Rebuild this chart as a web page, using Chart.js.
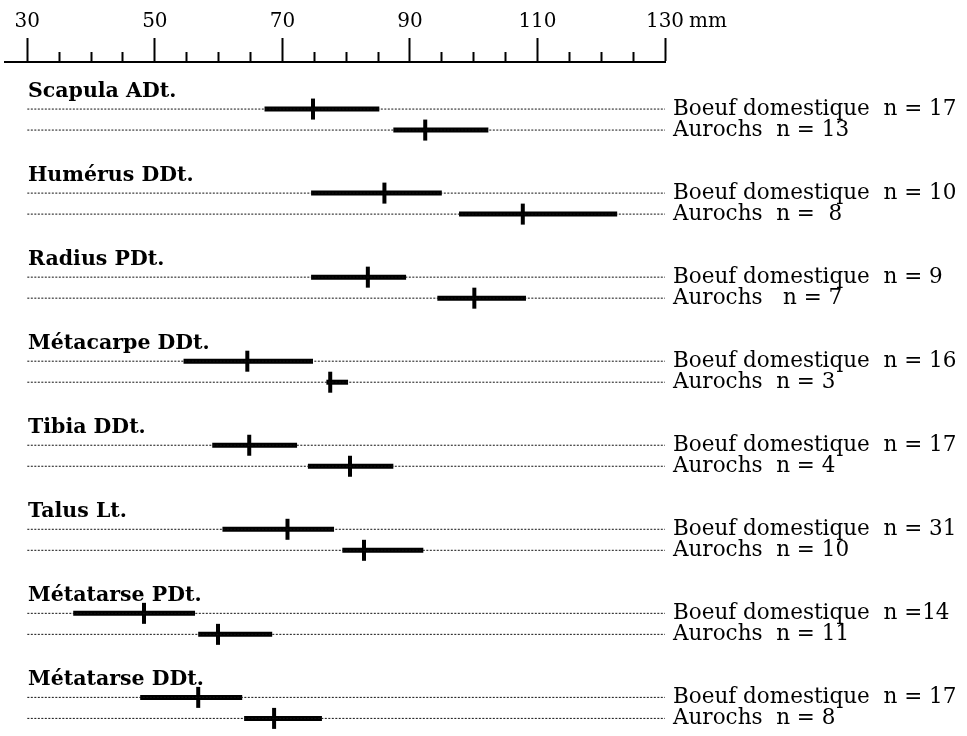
<!DOCTYPE html>
<html>
<head>
<meta charset="utf-8">
<script src="https://cdn.jsdelivr.net/npm/chart.js@4"></script>
<style>
  html, body { margin: 0; background: #fff; }
  #wrap { width: 967px; height: 736px; position: relative; }
</style>
</head>
<body>
<div id="wrap"><canvas id="chart"></canvas></div>
<script>
// bone measurements (mm): range and mean, domestic cattle vs aurochs
const groups = ['Scapula ADt.', 'Humérus DDt.', 'Radius PDt.', 'Métacarpe DDt.', 'Tibia DDt.', 'Talus Lt.', 'Métatarse PDt.', 'Métatarse DDt.'];
const boeufMin  = [67.2, 74.5, 74.5, 54.5, 59.0, 60.6, 37.2, 47.7];
const boeufMean = [74.8, 86.0, 83.4, 64.5, 64.8, 70.8, 48.3, 56.8];
const boeufMax  = [85.2, 95.0, 89.4, 74.8, 72.3, 78.1, 56.3, 63.7];
const aurochsMin  = [87.4, 97.7, 94.3, 76.9, 74.0, 79.4, 56.8, 64.0];
const aurochsMean = [92.4, 107.7, 100.1, 77.5, 80.6, 82.8, 59.9, 68.7];
const aurochsMax  = [102.3, 122.5, 108.2, 80.3, 87.4, 92.1, 68.4, 76.2];
const boeufLabels = ['Boeuf domestique  n = 17', 'Boeuf domestique  n = 10', 'Boeuf domestique  n = 9', 'Boeuf domestique  n = 16',
                     'Boeuf domestique  n = 17', 'Boeuf domestique  n = 31', 'Boeuf domestique  n =14', 'Boeuf domestique  n = 17'];
const aurochsLabels = ['Aurochs  n = 13', 'Aurochs  n =  8', 'Aurochs   n = 7', 'Aurochs  n = 3',
                       'Aurochs  n = 4', 'Aurochs  n = 10', 'Aurochs  n = 11', 'Aurochs  n = 8'];
const xTicks = [30, 35, 40, 45, 50, 55, 60, 65, 70, 75, 80, 85, 90, 95, 100, 105, 110, 115, 120, 125, 130];
const xLabels = [30, 50, 70, 90, 110, 130];

Chart.defaults.font.family = "'DejaVu Serif', serif";
Chart.defaults.color = '#000';

// each bone takes 4 row units: boeuf on the first, aurochs on the next
const rowOf = (g, s) => g * 4 + s;
const rows = [];
const rowLabels = [];
groups.forEach((name, g) => {
    rows.push(rowOf(g, 0), rowOf(g, 1));
    rowLabels.push(boeufLabels[g], aurochsLabels[g]);
});

const datasets = [];
// dotted guide lines
rows.forEach(r => {
    datasets.push({
        type: 'line',
        data: [{ x: 30, y: r }, { x: 130, y: r }],
        borderColor: '#111',
        borderWidth: 1,
        borderDash: [2, 1.5],
        pointRadius: 0
    });
});
// range bars
function rangeBar(min, max, r) {
    return {
        type: 'line',
        data: [{ x: min, y: r }, { x: max, y: r }],
        borderColor: '#000',
        borderWidth: 5,
        borderCapStyle: 'butt',
        pointRadius: 0
    };
}
groups.forEach((name, g) => {
    datasets.push(rangeBar(boeufMin[g], boeufMax[g], rowOf(g, 0)));
    datasets.push(rangeBar(aurochsMin[g], aurochsMax[g], rowOf(g, 1)));
});
// mean ticks
const means = [];
groups.forEach((name, g) => {
    means.push({ x: boeufMean[g], y: rowOf(g, 0) });
    means.push({ x: aurochsMean[g], y: rowOf(g, 1) });
});
datasets.push({
    type: 'scatter',
    data: means,
    pointStyle: 'line',
    pointRotation: 90,
    pointRadius: 10.5,
    pointBorderWidth: 4,
    borderColor: '#000',
    pointBorderColor: '#000',
    showLine: false
});

const isMajor = c => c.tick && xLabels.includes(c.tick.value);
const noPad = s => { s.paddingTop = 0; s.paddingBottom = 0; s.paddingLeft = 0; s.paddingRight = 0; };

// "mm" unit next to the last tick label
const unitPlugin = {
    id: 'unit',
    afterDraw(chart) {
        const xs = chart.scales.x;
        const ctx = chart.ctx;
        ctx.save();
        ctx.font = "20px 'DejaVu Serif', serif";
        ctx.fillStyle = '#000';
        ctx.textBaseline = 'middle';
        const x = xs.getPixelForValue(130) + ctx.measureText('130').width / 2 + 5;
        ctx.fillText('mm', x, xs.bottom - 24 - 4 - 12);
        ctx.restore();
    }
};

new Chart(document.getElementById('chart'), {
    type: 'line',
    data: { datasets },
    plugins: [unitPlugin],
    options: {
        responsive: true,
        maintainAspectRatio: false,
        animation: false,
        events: [],
        layout: { autoPadding: false, padding: { left: 5, right: 0, top: 0, bottom: 5 } },
        plugins: { legend: { display: false }, tooltip: { enabled: false } },
        scales: {
            x: {
                type: 'linear', position: 'top', min: 26.5, max: 130,
                afterBuildTicks: s => { s.ticks = xTicks.map(v => ({ value: v })); },
                afterFit: s => { s.height = 62; noPad(s); },
                ticks: {
                    autoSkip: false, maxRotation: 0, padding: 4, font: { size: 20 },
                    callback: v => xLabels.includes(v) ? String(v) : ''
                },
                grid: {
                    drawOnChartArea: false, tickLength: 24, tickWidth: 2, tickColor: '#000',
                    tickBorderDash: c => isMajor(c) ? [] : [9, 14],
                    tickBorderDashOffset: c => isMajor(c) ? 0 : 9
                },
                border: { display: true, color: '#000', width: 2 }
            },
            y: {
                type: 'linear', position: 'right', reverse: true, min: -2.24, max: 29.6,
                afterBuildTicks: s => { s.ticks = rows.map(v => ({ value: v })); },
                afterFit: s => { s.width = 302; noPad(s); },
                ticks: { autoSkip: false, padding: 8, font: { size: 21.5 }, callback: (v, i) => rowLabels[i] },
                grid: { display: false, drawTicks: false },
                border: { display: false }
            },
            yl: {
                type: 'linear', position: 'left', reverse: true, min: -2.24, max: 29.6,
                afterBuildTicks: s => { s.ticks = groups.map((n, g) => ({ value: rowOf(g, 0) - 0.85 })); },
                afterFit: s => { s.width = 0; noPad(s); },
                ticks: { mirror: true, autoSkip: false, padding: 23, font: { size: 20.5, weight: 'bold' }, callback: (v, i) => groups[i] },
                grid: { display: false, drawTicks: false },
                border: { display: false }
            }
        }
    }
});
</script>
</body>
</html>
